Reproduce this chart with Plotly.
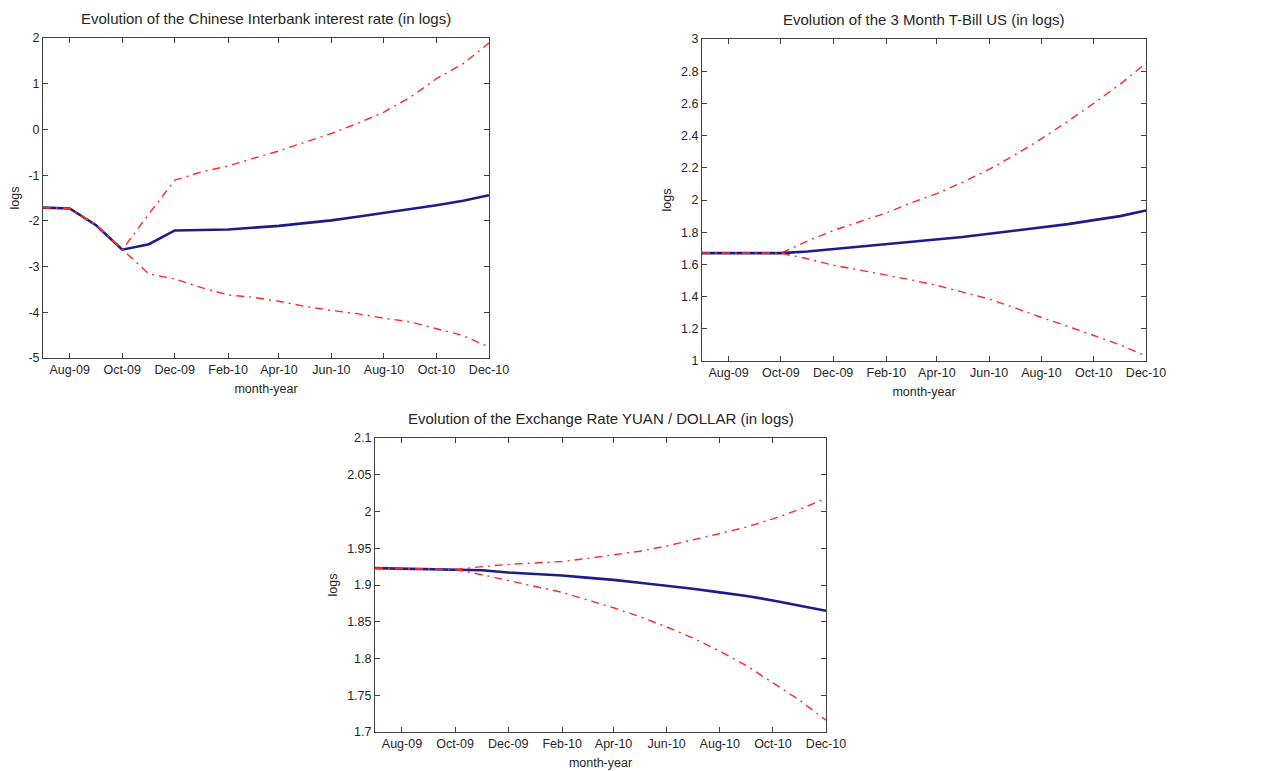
import plotly.graph_objects as go

months = ["2009-07-01", "2009-08-01", "2009-09-01", "2009-10-01", "2009-11-01", "2009-12-01",
          "2010-01-01", "2010-02-01", "2010-03-01", "2010-04-01", "2010-05-01", "2010-06-01",
          "2010-07-01", "2010-08-01", "2010-09-01", "2010-10-01", "2010-11-01", "2010-12-01"]
xtick_vals = ["2009-08-01", "2009-10-01", "2009-12-01", "2010-02-01", "2010-04-01",
              "2010-06-01", "2010-08-01", "2010-10-01", "2010-12-01"]
xtick_text = ["Aug-09", "Oct-09", "Dec-09", "Feb-10", "Apr-10", "Jun-10", "Aug-10", "Oct-10", "Dec-10"]

# Panel 1: Chinese interbank rate
cn_mean = [-1.71, -1.73, -2.10, -2.63, -2.51, -2.21, -2.20, -2.19, -2.15, -2.11, -2.05, -1.99,
           -1.91, -1.83, -1.74, -1.66, -1.56, -1.44]
cn_upper = [-1.71, -1.73, -2.10, -2.63, -1.85, -1.11, -0.93, -0.80, -0.64, -0.47, -0.28, -0.09,
            0.13, 0.38, 0.71, 1.11, 1.44, 1.89]
cn_lower = [-1.71, -1.73, -2.10, -2.63, -3.16, -3.27, -3.46, -3.62, -3.67, -3.76, -3.87, -3.96,
            -4.03, -4.13, -4.21, -4.36, -4.51, -4.76]
cn_yticks = [-5, -4, -3, -2, -1, 0, 1, 2]
cn_ytext = ["-5", "-4", "-3", "-2", "-1", "0", "1", "2"]

# Panel 2: 3 month T-bill US
us_mean = [1.67, 1.67, 1.67, 1.67, 1.68, 1.695, 1.71, 1.725, 1.74, 1.755, 1.77, 1.79,
           1.81, 1.83, 1.85, 1.875, 1.90, 1.935]
us_upper = [1.67, 1.67, 1.67, 1.67, 1.745, 1.81, 1.865, 1.92, 1.98, 2.04, 2.11, 2.19,
            2.28, 2.38, 2.49, 2.60, 2.72, 2.85]
us_lower = [1.67, 1.67, 1.67, 1.67, 1.635, 1.595, 1.565, 1.535, 1.505, 1.47, 1.43, 1.385,
            1.33, 1.27, 1.215, 1.16, 1.10, 1.03]
us_yticks = [1, 1.2, 1.4, 1.6, 1.8, 2, 2.2, 2.4, 2.6, 2.8, 3]
us_ytext = ["1", "1.2", "1.4", "1.6", "1.8", "2", "2.2", "2.4", "2.6", "2.8", "3"]

# Panel 3: Yuan / Dollar
fx_mean = [1.923, 1.922, 1.921, 1.921, 1.920, 1.917, 1.915, 1.913, 1.910, 1.907, 1.903, 1.899,
           1.895, 1.890, 1.885, 1.879, 1.872, 1.865]
fx_upper = [1.923, 1.922, 1.921, 1.921, 1.925, 1.928, 1.930, 1.932, 1.936, 1.941, 1.946, 1.953,
            1.961, 1.970, 1.979, 1.990, 2.003, 2.018]
fx_lower = [1.923, 1.922, 1.921, 1.921, 1.914, 1.906, 1.898, 1.890, 1.880, 1.869, 1.857, 1.843,
            1.828, 1.810, 1.790, 1.767, 1.743, 1.716]
fx_yticks = [1.7, 1.75, 1.8, 1.85, 1.9, 1.95, 2, 2.05, 2.1]
fx_ytext = ["1.7", "1.75", "1.8", "1.85", "1.9", "1.95", "2", "2.05", "2.1"]

OFF = 8  # default page body margin
W, H = 1269 - OFF, 771 - OFF
panels = [
    dict(title="Evolution of the Chinese Interbank interest rate (in logs)",
         mean=cn_mean, up=cn_upper, lo=cn_lower, yt=cn_yticks, ytt=cn_ytext, yr=[-5, 2],
         px=(43, 489), py=(38, 358)),
    dict(title="Evolution of the 3 Month T-Bill US (in logs)",
         mean=us_mean, up=us_upper, lo=us_lower, yt=us_yticks, ytt=us_ytext, yr=[1, 3],
         px=(702, 1146), py=(39, 361)),
    dict(title="Evolution of the Exchange Rate YUAN / DOLLAR (in logs)",
         mean=fx_mean, up=fx_upper, lo=fx_lower, yt=fx_yticks, ytt=fx_ytext, yr=[1.7, 2.1],
         px=(375, 826), py=(438, 732)),
]

FONT = "Liberation Sans, Arial, sans-serif"
TXT = "#262626"
AX = "#404040"
RED_DASH = "8px,5px,2px,5px"

fig = go.Figure()
layout = dict(width=W, height=H, margin=dict(l=0, r=0, t=0, b=0, autoexpand=False),
              paper_bgcolor="white", plot_bgcolor="white", showlegend=False,
              font=dict(family=FONT, size=12.5, color=TXT))
annotations = []
for i, p in enumerate(panels, start=1):
    xa = "x" if i == 1 else f"x{i}"
    ya = "y" if i == 1 else f"y{i}"
    fig.add_trace(go.Scatter(x=months, y=p["mean"], mode="lines", xaxis=xa, yaxis=ya,
                             line=dict(color="#1c1c8a", width=2.6)))
    fig.add_trace(go.Scatter(x=months, y=p["up"], mode="lines", xaxis=xa, yaxis=ya,
                             line=dict(color="#ff2828", width=1.4, dash=RED_DASH)))
    fig.add_trace(go.Scatter(x=months, y=p["lo"], mode="lines", xaxis=xa, yaxis=ya,
                             line=dict(color="#ff2828", width=1.4, dash=RED_DASH)))
    xd = [(p["px"][0] - OFF) / W, (p["px"][1] - OFF) / W]
    yd = [1 - (p["py"][1] - OFF) / H, 1 - (p["py"][0] - OFF) / H]
    common = dict(showline=True, linecolor=AX, linewidth=1, mirror="ticks", ticks="inside",
                  ticklen=5, tickcolor=AX, showgrid=False, zeroline=False, automargin=False,
                  tickfont=dict(family=FONT, size=12.5, color=TXT))
    layout["xaxis" if i == 1 else f"xaxis{i}"] = dict(
        domain=xd, anchor=ya, range=[months[0], months[-1]], tickvals=xtick_vals,
        ticktext=xtick_text, title=dict(text="month-year", standoff=8,
                                         font=dict(family=FONT, size=12.5, color=TXT)),
        **common)
    layout["yaxis" if i == 1 else f"yaxis{i}"] = dict(
        domain=yd, anchor=xa, range=p["yr"], tickvals=p["yt"], ticktext=p["ytt"],
        title=dict(text="logs", standoff=6, font=dict(family=FONT, size=12.5, color=TXT)),
        **common)
    annotations.append(dict(text=p["title"], xref="paper", yref="paper",
                            x=(xd[0] + xd[1]) / 2, y=yd[1], xanchor="center", yanchor="bottom",
                            yshift=9, showarrow=False,
                            font=dict(family=FONT, size=15, color=TXT)))
layout["annotations"] = annotations
fig.update_layout(**layout)
fig.write_html("out.html")
